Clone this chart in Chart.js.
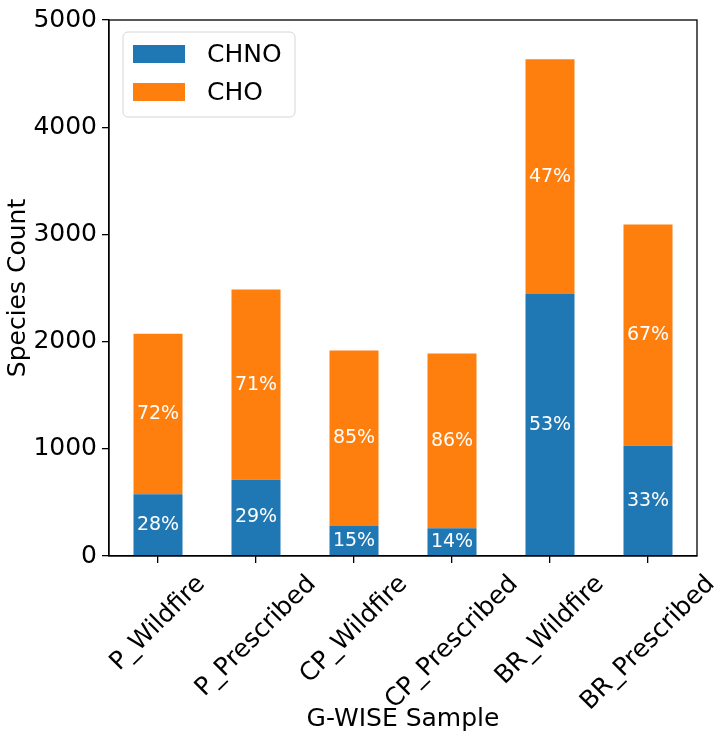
<!DOCTYPE html>
<html>
<head>
<meta charset="utf-8">
<title>Species Count by G-WISE Sample</title>
<script src="https://cdn.jsdelivr.net/npm/chart.js@4.4.1/dist/chart.umd.min.js"></script>
<style>
  html, body { margin: 0; padding: 0; background: #fff; }
  #chart { display: block; }
</style>
</head>
<body>
<canvas id="chart" width="723" height="739"></canvas>
<script>
// sample names on the x axis
const samples = ['P_Wildfire', 'P_Prescribed', 'CP_Wildfire', 'CP_Prescribed', 'BR_Wildfire', 'BR_Prescribed'];

// species counts
const chnoCounts = [575, 712, 280, 260, 2445, 1028];
const choCounts = [1498, 1774, 1637, 1630, 2188, 2064];

// percentage labels printed in each segment
const chnoPct = [28, 29, 15, 14, 53, 33];
const choPct = [72, 71, 85, 86, 47, 67];

// y axis range
const yMin = 0;
const yMax = 5000;
const yStep = 1000;

const FONT = '"DejaVu Sans", "Liberation Sans", sans-serif';
const BLUE = '#1f77b4';
const ORANGE = '#ff7f0e';

// percentages in the middle of each stacked segment
const segmentLabels = {
  id: 'segmentLabels',
  afterDatasetsDraw(chart) {
    const ctx = chart.ctx;
    const pcts = [chnoPct, choPct];
    ctx.save();
    ctx.font = '19px ' + FONT;
    ctx.fillStyle = '#ffffff';
    ctx.textAlign = 'center';
    ctx.textBaseline = 'middle';
    chart.data.datasets.forEach((ds, di) => {
      const meta = chart.getDatasetMeta(di);
      meta.data.forEach((bar, i) => {
        const p = bar.getProps(['x', 'y', 'base'], true);
        ctx.fillText(pcts[di][i] + '%', p.x, (p.y + p.base) / 2);
      });
    });
    ctx.restore();
  }
};

// frame, rotated x labels and legend box (matplotlib look)
const mplDecor = {
  id: 'mplDecor',
  afterDraw(chart) {
    const ctx = chart.ctx;
    const a = chart.chartArea;
    ctx.save();

    // full axes frame
    ctx.strokeStyle = '#000';
    ctx.lineWidth = 1.3;
    ctx.strokeRect(a.left, a.top, a.right - a.left, a.bottom - a.top);

    // x tick labels, rotated 45deg, centred on the tick
    const xs = chart.scales.x;
    ctx.font = '25px ' + FONT;
    ctx.fillStyle = '#000';
    ctx.textAlign = 'center';
    ctx.textBaseline = 'middle';
    const h = 29;
    samples.forEach((s, i) => {
      const x = xs.getPixelForTick(i);
      const w = ctx.measureText(s).width;
      const ext = (w + h) * Math.SQRT1_2;
      const cy = a.bottom + 14 + ext / 2;
      ctx.save();
      ctx.translate(x, cy);
      ctx.rotate(-Math.PI / 4);
      ctx.fillText(s, 0, 0);
      ctx.restore();
    });

    // legend in upper left
    const lx = a.left + 14, ly = a.top + 12;
    const lw = 172, lh = 85;
    ctx.beginPath();
    ctx.roundRect(lx, ly, lw, lh, 5);
    ctx.fillStyle = 'rgba(255,255,255,0.8)';
    ctx.fill();
    ctx.strokeStyle = '#d6d6d6';
    ctx.lineWidth = 1;
    ctx.stroke();
    ctx.textAlign = 'left';
    chart.data.datasets.forEach((ds, di) => {
      const rowY = ly + 22 + di * 38;
      ctx.fillStyle = ds.backgroundColor;
      ctx.fillRect(lx + 10, rowY - 9, 52, 18);
      ctx.fillStyle = '#000';
      ctx.fillText(ds.label, lx + 84, rowY + 1);
    });

    ctx.restore();
  }
};

new Chart(document.getElementById('chart'), {
  type: 'bar',
  data: {
    labels: samples,
    datasets: [
      { label: 'CHNO', data: chnoCounts, backgroundColor: BLUE, barPercentage: 0.5, categoryPercentage: 1.0 },
      { label: 'CHO', data: choCounts, backgroundColor: ORANGE, barPercentage: 0.5, categoryPercentage: 1.0 }
    ]
  },
  options: {
    responsive: false,
    animation: false,
    devicePixelRatio: 1,
    layout: { padding: { top: 11, right: 26, left: 0, bottom: 0 } },
    plugins: {
      legend: { display: false },
      tooltip: { enabled: false }
    },
    scales: {
      x: {
        stacked: true,
        afterFit(scale) { scale.height = 183; },
        grid: {
          offset: false,
          drawOnChartArea: false,
          drawTicks: true,
          tickLength: 7,
          tickColor: '#000',
          lineWidth: 1.3
        },
        border: { display: true, color: '#000', width: 1.3 },
        ticks: { display: false },
        title: {
          display: true,
          text: 'G-WISE Sample',
          color: '#000',
          font: { family: FONT, size: 25 },
          padding: { top: 0, bottom: 5 }
        }
      },
      y: {
        stacked: true,
        min: yMin,
        max: yMax,
        afterFit(scale) { scale.width = 109; },
        grid: {
          drawOnChartArea: false,
          drawTicks: true,
          tickLength: 7,
          tickColor: '#000',
          lineWidth: 1.3
        },
        border: { display: true, color: '#000', width: 1.3 },
        ticks: {
          stepSize: yStep,
          padding: 5,
          color: '#000',
          font: { family: FONT, size: 25 },
          callback: (v) => String(v)
        },
        title: {
          display: true,
          text: 'Species Count',
          color: '#000',
          font: { family: FONT, size: 25 },
          padding: { top: 3, bottom: 0 }
        }
      }
    }
  },
  plugins: [segmentLabels, mplDecor]
});
</script>
</body>
</html>
